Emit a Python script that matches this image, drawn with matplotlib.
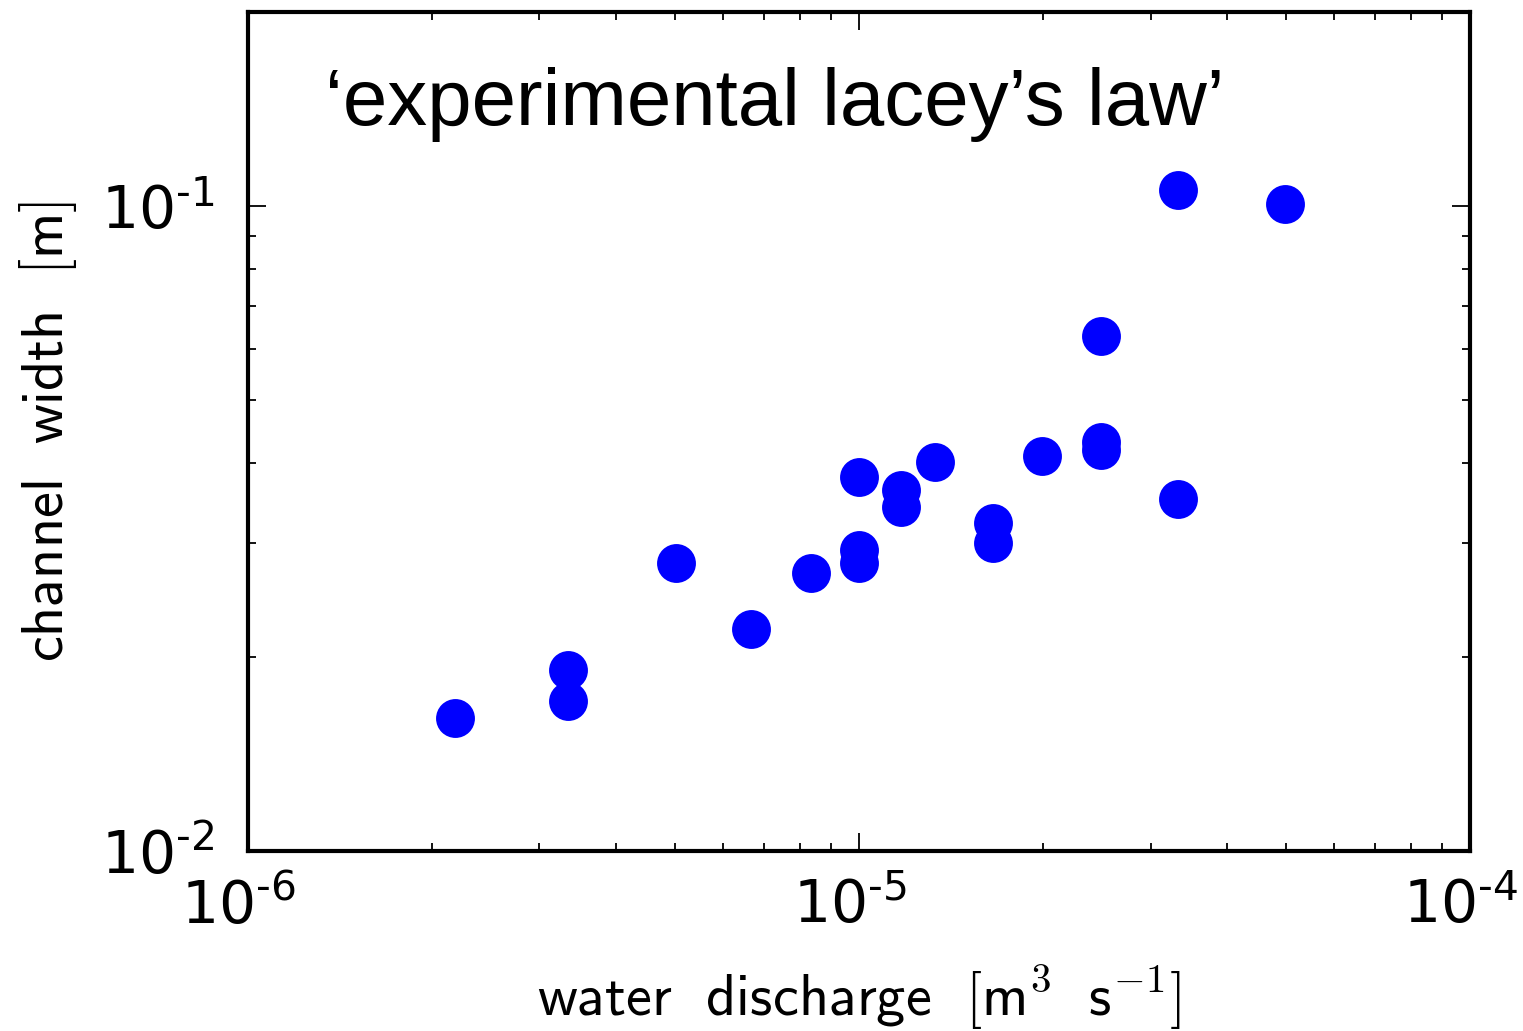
import numpy as np
import matplotlib
matplotlib.use('Agg')
import matplotlib.pyplot as plt
import matplotlib.transforms as mtransforms
from matplotlib.ticker import LogLocator, FuncFormatter, NullFormatter

# discharge [m^3/s] and channel width [m]
discharge = [2.18e-6, 3.34e-6, 3.34e-6, 5.02e-6, 6.65e-6, 8.35e-6,
             1.0e-5, 1.0e-5, 1.0e-5, 1.17e-5, 1.17e-5, 1.33e-5,
             1.66e-5, 1.66e-5, 1.99e-5, 2.49e-5, 2.49e-5, 2.49e-5,
             3.33e-5, 3.33e-5, 4.98e-5]
width = [0.0161, 0.0191, 0.0171, 0.0280, 0.0221, 0.0270,
         0.0380, 0.0293, 0.0280, 0.0363, 0.0341, 0.0401,
         0.0322, 0.0300, 0.0410, 0.0431, 0.0419, 0.0629,
         0.0351, 0.1059, 0.1007]

plt.rcParams['mathtext.fontset'] = 'dejavusans'
plt.rcParams['axes.unicode_minus'] = False

fig = plt.figure(figsize=(15.23, 10.31), dpi=100)
ax = fig.add_axes([0.1628, 0.1746, 0.8024, 0.8138])

ax.plot(discharge, width, 'o', color='#0000ff', markersize=28, markeredgewidth=0)
ax.set_xscale('log')
ax.set_yscale('log')
ax.set_xlim(1e-6, 1e-4)
ax.set_ylim(1e-2, 0.2)

def sci_fmt(v, pos):
    e = int(round(np.log10(v)))
    return r'$\mathregular{10^{\text{%d}}}$' % e

for axis in (ax.xaxis, ax.yaxis):
    axis.set_major_locator(LogLocator(base=10))
    axis.set_minor_locator(LogLocator(base=10, subs=np.arange(2, 10)))
    axis.set_major_formatter(FuncFormatter(sci_fmt))
    axis.set_minor_formatter(NullFormatter())

ax.tick_params(which='both', direction='in', top=True, right=True, labelsize=42)
ax.tick_params(which='major', length=13, width=1.3)
ax.tick_params(axis='x', which='major', pad=19)
ax.tick_params(axis='y', which='major', pad=24)
ax.tick_params(which='minor', length=6, width=1.3)
for s in ax.spines.values():
    s.set_linewidth(3)

# nudge x tick labels a little left, as in the original
shift = mtransforms.ScaledTranslation(-9 / 100, 0, fig.dpi_scale_trans)
for lbl in ax.get_xticklabels():
    lbl.set_transform(lbl.get_transform() + shift)

ax.set_xlabel(r'$\mathsf{water\ \ discharge}\ \ [\mathsf{m}^3\ \ \mathsf{s}^{-1}]$',
              fontsize=42, math_fontfamily='cm', labelpad=20)
ax.set_ylabel(r'$\mathsf{channel\ \ width}\ \ [\mathsf{m}]$',
              fontsize=42, math_fontfamily='cm', labelpad=16)

ax.text(0.063, 0.865, '\u2018experimental lacey\u2019s law\u2019', transform=ax.transAxes,
        fontsize=57.5, family='Liberation Sans', va='baseline', ha='left')

fig.savefig('out.png', dpi=100)
